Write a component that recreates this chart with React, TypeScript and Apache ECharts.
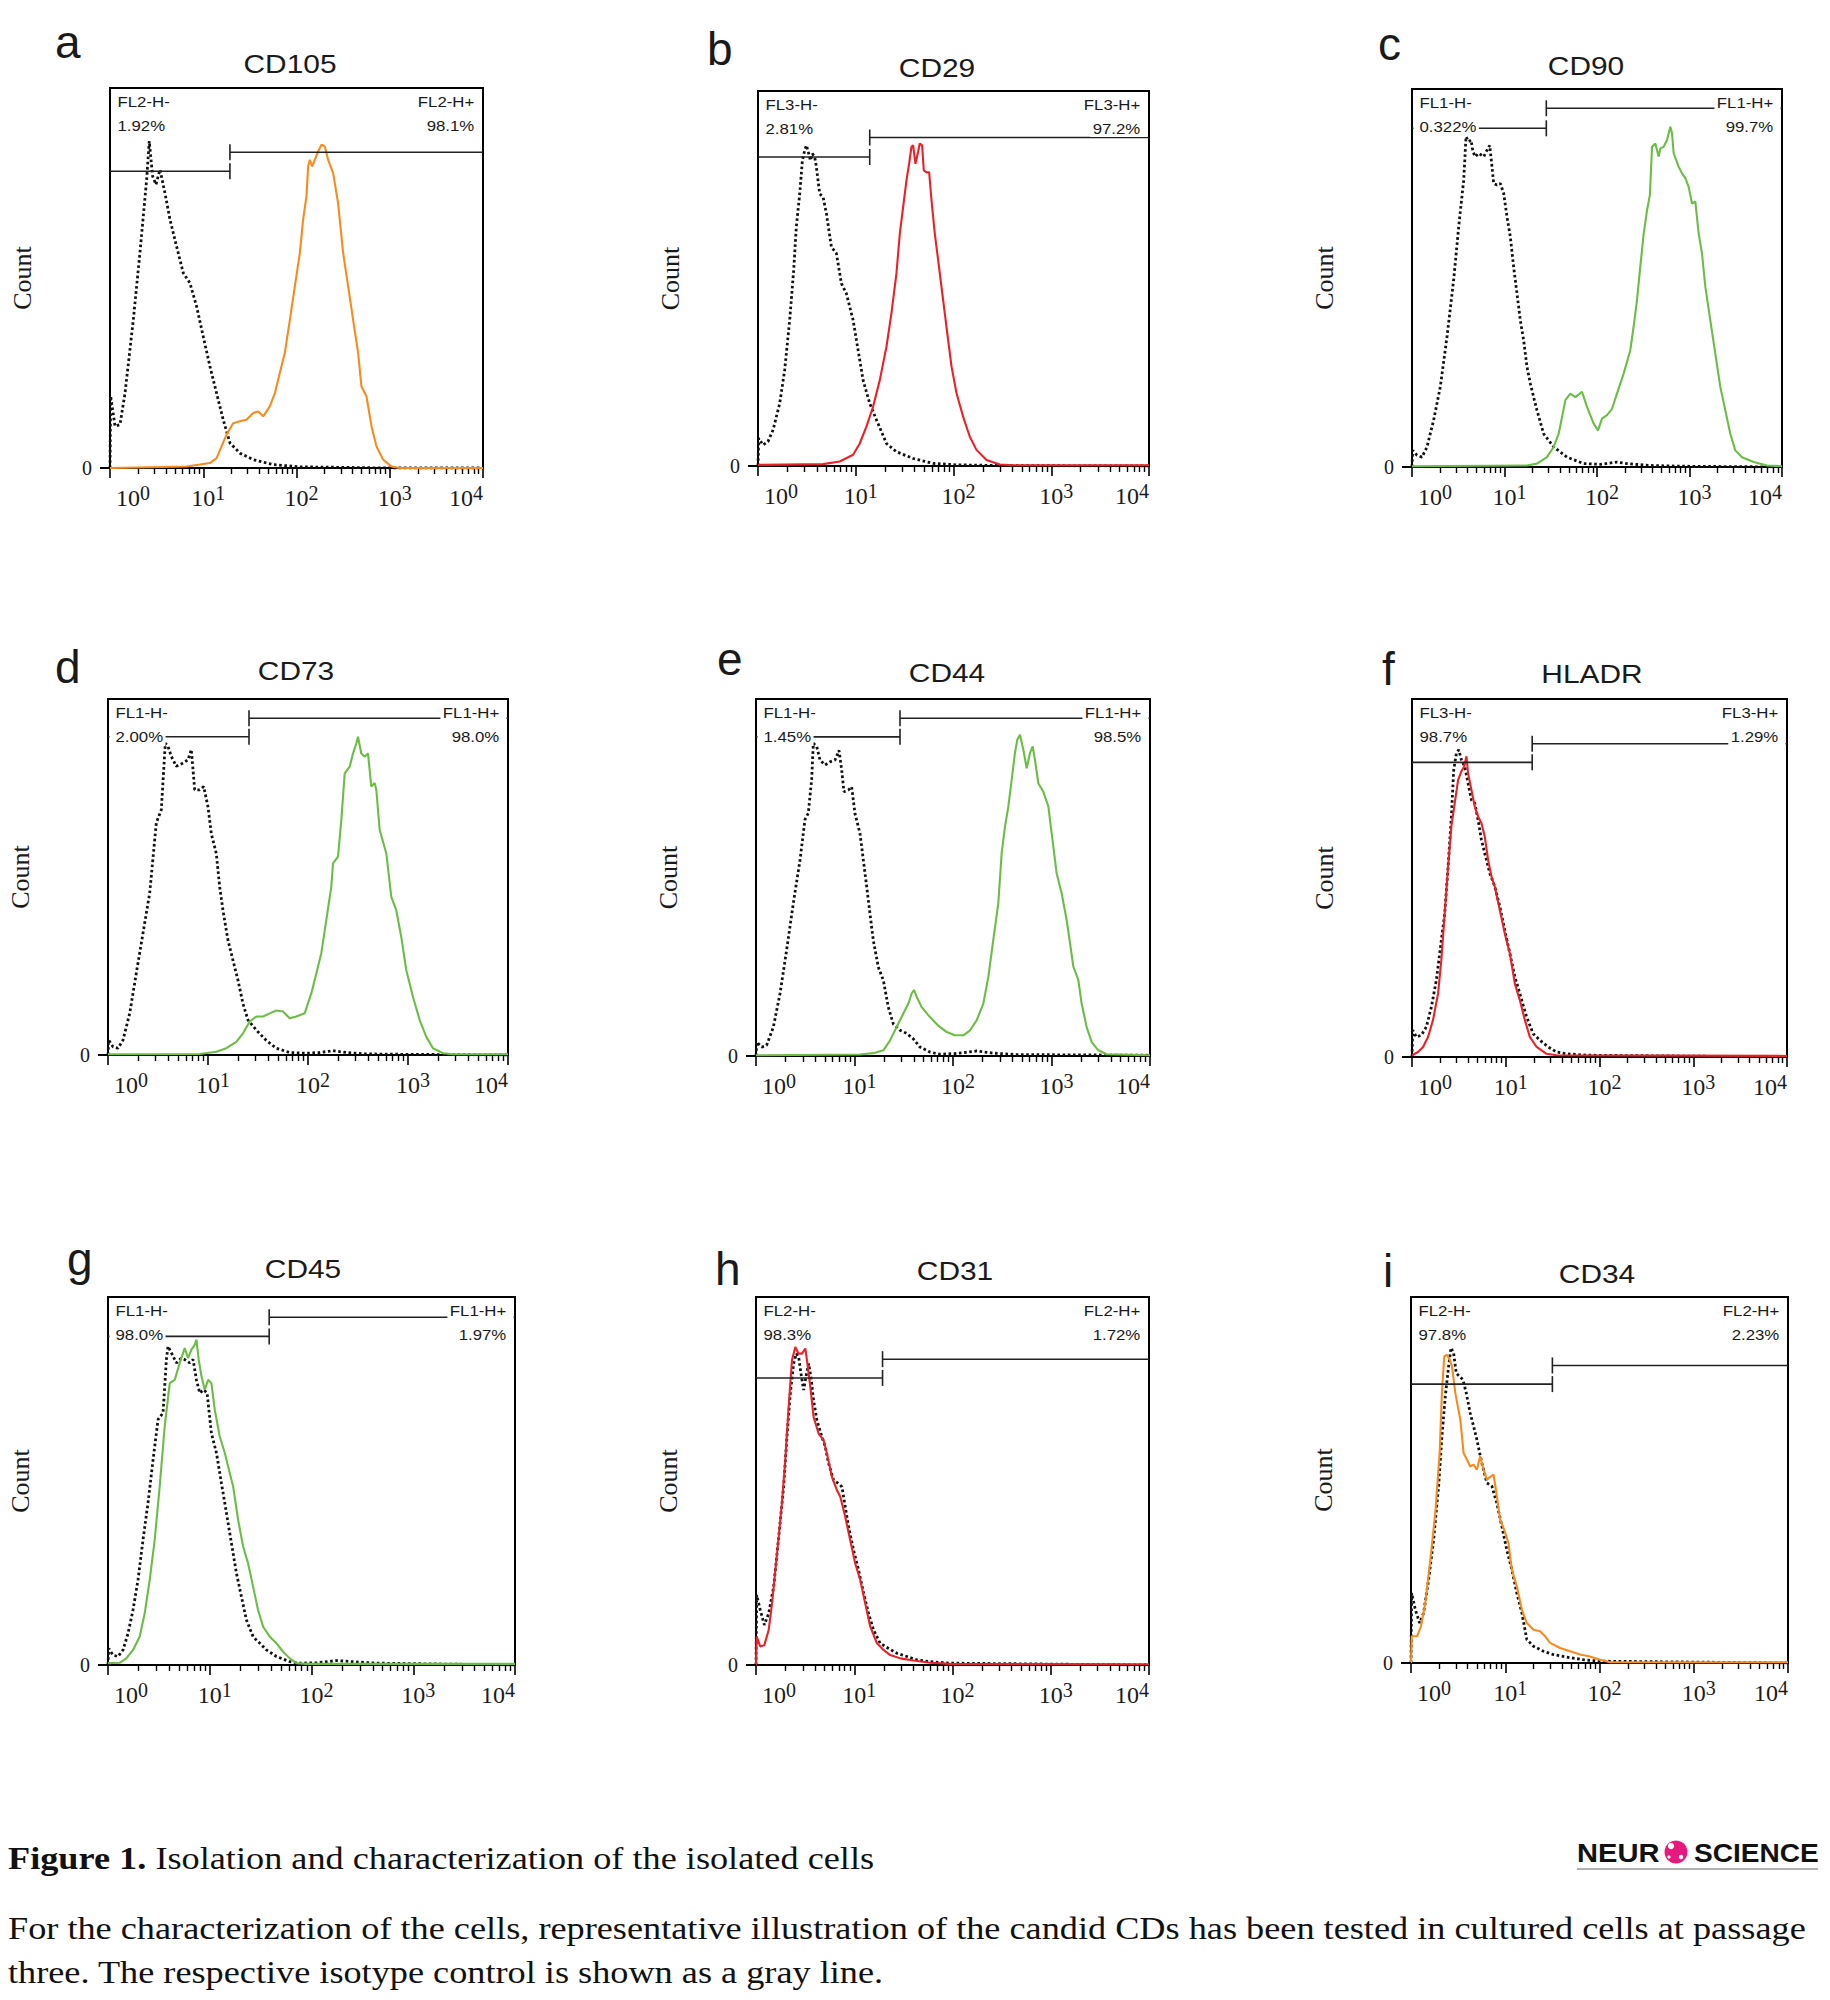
import React, { useEffect, useRef } from 'react';
import * as echarts from 'echarts';

// x: log10 fluorescence intensity (0 = 10^0 ... 4 = 10^4); y: relative cell count (% of full scale)
const DECADES = [0, 1, 2, 3, 4];
const MINOR_MULTIPLIERS = [2, 3, 4, 5, 6, 7, 8, 9];

const cd105Isotype = [[0,0],[0.007,18.9],[0.054,11],[0.107,11.4],[0.161,19.7],[0.25,39],[0.321,56.6],[0.393,75.9],[0.421,86],[0.457,76.8],[0.493,74.6],[0.536,78.5],[0.589,72.4],[0.643,65.4],[0.714,58.3],[0.786,51.3],[0.857,48.7],[0.929,42.5],[1.0,34.6],[1.071,26.8],[1.143,19.7],[1.214,12.7],[1.286,6.6],[1.393,3.9],[1.536,2.2],[1.75,0.9],[2.036,0.3],[2.39,0.2],[2.98,0],[4,0]];
const cd105Stained = [[0,0],[0.821,0.4],[0.964,0.9],[1.071,1.3],[1.143,2.6],[1.196,5.7],[1.25,8.8],[1.321,11.8],[1.393,12.3],[1.464,12.7],[1.536,14.5],[1.589,14.9],[1.643,13.6],[1.714,16.2],[1.768,19.7],[1.821,25],[1.875,30.3],[1.929,39],[1.982,47.8],[2.036,56.6],[2.071,65.4],[2.107,71.5],[2.125,79.4],[2.143,81.1],[2.168,79.4],[2.196,81.1],[2.232,83.3],[2.268,85.1],[2.304,84.6],[2.339,81.1],[2.393,77.6],[2.446,69.7],[2.5,56.6],[2.554,47.8],[2.607,39],[2.661,30.3],[2.696,21.5],[2.75,18.9],[2.804,11],[2.857,5.7],[2.929,2.2],[3.018,0.4],[3.107,0],[4,0]];
const cd105Gates = [[0, 1.286, 78.1], [1.286, 4, 83.1]];

const cd29Isotype = [[0,0],[0.007,7.4],[0.051,5.6],[0.102,6.5],[0.154,9.6],[0.222,16.7],[0.273,25.6],[0.324,38.9],[0.365,52.2],[0.392,63.8],[0.427,72.6],[0.454,81.5],[0.478,84.2],[0.495,85.5],[0.519,83.3],[0.536,81.5],[0.556,83.3],[0.58,82.4],[0.597,79.8],[0.631,72.6],[0.666,71.7],[0.7,67.3],[0.751,58.4],[0.802,56.7],[0.853,48.7],[0.904,46],[0.973,38.9],[1.024,30.9],[1.075,22.9],[1.143,16.7],[1.212,12.3],[1.314,6],[1.416,3.8],[1.587,2],[1.792,0.7],[2.031,0.3],[2.543,0.1],[4,0]];
const cd29Stained = [[0,0.3],[0.666,0.5],[0.836,1.2],[0.973,3],[1.041,6],[1.109,10.5],[1.177,15.8],[1.246,22.9],[1.314,31.8],[1.365,40.7],[1.416,51.3],[1.451,62],[1.485,69.1],[1.519,76.2],[1.546,80.6],[1.57,85.1],[1.587,85.5],[1.611,80.6],[1.638,83.8],[1.655,86],[1.679,85.5],[1.696,78.8],[1.724,78.3],[1.751,78.3],[1.775,70.8],[1.809,61.9],[1.843,54.9],[1.877,47.8],[1.911,40.7],[1.945,33.6],[1.98,26.5],[2.031,19.4],[2.099,13.1],[2.167,7.8],[2.235,4.3],[2.338,1.6],[2.474,0.4],[2.611,0.2],[4,0.2]];
const cd29Gates = [[0, 1.143, 82.4], [1.143, 4, 87.6]];

const cd90Isotype = [[0,0],[0.007,4.4],[0.054,3.1],[0.108,2.6],[0.162,5.3],[0.234,12.4],[0.306,21.2],[0.378,34.4],[0.45,49.4],[0.505,63.6],[0.559,75.9],[0.584,87.4],[0.613,86.1],[0.638,86.5],[0.659,83.4],[0.685,82.1],[0.721,83],[0.775,82.1],[0.811,83.8],[0.84,85.1],[0.865,79.4],[0.883,75],[0.919,74.6],[0.955,75],[0.991,72.4],[1.027,66.2],[1.063,60.9],[1.099,52.9],[1.135,45.9],[1.171,38.8],[1.207,33.5],[1.243,26.5],[1.279,22.1],[1.315,18.5],[1.351,15],[1.423,8.8],[1.532,5.3],[1.676,2.6],[1.856,0.9],[2.036,0.7],[2.216,1.3],[2.324,0.9],[2.577,0.4],[2.937,0.2],[4,0]];
const cd90Stained = [[0,0.2],[1.243,0.4],[1.351,0.9],[1.459,2.6],[1.532,5.3],[1.586,8.8],[1.622,13.2],[1.658,17.7],[1.712,19.4],[1.766,18.5],[1.838,19.9],[1.892,15.9],[1.964,11.5],[2.011,9.7],[2.054,12.8],[2.108,13.7],[2.162,15.4],[2.216,19.4],[2.288,24.7],[2.36,30.9],[2.396,37.1],[2.432,44.1],[2.468,53],[2.505,61.8],[2.541,67.9],[2.572,72],[2.595,84.7],[2.631,85.6],[2.667,82.1],[2.685,84.3],[2.721,84.7],[2.757,86.5],[2.775,88.3],[2.793,90],[2.811,88.3],[2.829,83],[2.883,79.4],[2.919,77.7],[2.955,76.4],[2.991,74.1],[3.027,69.7],[3.063,70.2],[3.099,61.8],[3.135,56.5],[3.171,47.7],[3.225,38.8],[3.279,30],[3.333,21.2],[3.387,15],[3.441,8.8],[3.495,4.4],[3.568,2.6],[3.694,1.3],[3.838,0.4],[4,0.2]];
const cd90Gates = [[0, 1.452, 89.6], [1.452, 4, 94.9]];

const cd73Isotype = [[0,0],[0.007,4.2],[0.05,2.3],[0.1,1.9],[0.15,4.2],[0.217,11.7],[0.283,23],[0.35,34.2],[0.417,45.5],[0.483,65.2],[0.533,68.9],[0.573,87.6],[0.6,86.7],[0.633,83.9],[0.683,81.1],[0.75,82],[0.8,82.9],[0.833,85.8],[0.867,74.5],[0.917,74.5],[0.957,75.4],[1.0,69.7],[1.033,62.2],[1.083,56.6],[1.117,47.2],[1.15,40.6],[1.2,32.2],[1.25,26.6],[1.3,21],[1.35,14.4],[1.4,9.8],[1.483,7],[1.583,4.1],[1.683,1.9],[1.817,0.7],[1.983,0.5],[2.117,0.7],[2.25,1.2],[2.383,0.7],[2.583,0.3],[2.917,0.2],[4,0]];
const cd73Stained = [[0,0.2],[0.917,0.3],[1.083,0.9],[1.183,1.9],[1.283,3.7],[1.35,6.1],[1.417,9.4],[1.483,10.8],[1.55,10.8],[1.617,11.7],[1.683,12.5],[1.75,12.2],[1.817,10.3],[1.883,10.8],[1.967,11.7],[2.033,17.3],[2.083,22.9],[2.133,28.6],[2.183,37.9],[2.233,47.3],[2.25,53.8],[2.3,55.7],[2.333,65.9],[2.367,79.1],[2.417,81],[2.45,84.7],[2.483,87.5],[2.5,89.4],[2.533,84.7],[2.567,83.8],[2.6,84.7],[2.633,75.4],[2.667,76.4],[2.683,74.5],[2.717,63.2],[2.783,56.6],[2.833,44.4],[2.883,40.6],[2.933,33.1],[2.983,23.8],[3.05,16.3],[3.117,9.8],[3.183,5.1],[3.25,1.9],[3.35,0.5],[3.45,0.2],[4,0.2]];
const cd73Gates = [[0, 1.41, 89.4], [1.41, 4, 94.6]];

const cd44Isotype = [[0,0],[0.007,3.9],[0.058,2.5],[0.108,3],[0.176,8.1],[0.244,17.5],[0.311,29.7],[0.379,42.8],[0.447,54.9],[0.497,66.2],[0.531,68],[0.565,77.4],[0.582,87.6],[0.616,86.7],[0.65,82.9],[0.701,81.5],[0.751,82.4],[0.802,82.9],[0.843,85.6],[0.87,80.1],[0.893,74],[0.937,74.5],[0.971,75.4],[1.005,67.9],[1.056,62.3],[1.09,54.8],[1.124,47.4],[1.157,39.9],[1.191,32.4],[1.242,24.9],[1.293,21.2],[1.343,13.7],[1.394,9],[1.462,7.2],[1.53,6.3],[1.597,4.8],[1.665,2.5],[1.766,1.1],[1.868,0.5],[2.037,0.7],[2.24,1.4],[2.409,0.8],[2.646,0.4],[4,0.2]];
const cd44Stained = [[0,0.2],[1.056,0.4],[1.191,0.8],[1.293,1.6],[1.36,4.3],[1.428,8.1],[1.496,11.9],[1.547,14.7],[1.58,17.5],[1.604,18.5],[1.631,16.6],[1.682,13.7],[1.766,10.9],[1.851,8.5],[1.936,6.7],[2.02,5.8],[2.105,5.8],[2.173,7.2],[2.24,10],[2.308,14.7],[2.359,22.2],[2.409,32.5],[2.46,42.8],[2.494,56.8],[2.528,64.3],[2.562,69.9],[2.596,77.4],[2.629,84.9],[2.653,88.6],[2.68,90],[2.714,85.8],[2.748,80.6],[2.782,84.9],[2.809,86.7],[2.832,83],[2.866,76.4],[2.917,74],[2.968,69.9],[3.002,62.3],[3.052,51.2],[3.103,45.6],[3.154,38.1],[3.188,31.6],[3.222,25],[3.272,21.3],[3.306,14.7],[3.357,8.1],[3.408,3.9],[3.475,1.6],[3.56,0.5],[4,0.2]];
const cd44Gates = [[0, 1.462, 89.4], [1.462, 4, 94.6]];

const hladrIsotype = [[0,0],[0.007,7.5],[0.046,5.6],[0.1,6.1],[0.153,8.4],[0.207,14],[0.26,21.5],[0.313,32.6],[0.349,40.1],[0.385,53.2],[0.42,67.2],[0.445,80.2],[0.474,84.9],[0.499,85.8],[0.527,83],[0.563,81.1],[0.598,76.5],[0.634,71.8],[0.67,70.9],[0.705,66.2],[0.741,60.6],[0.776,56.9],[0.83,51.3],[0.883,47.6],[0.937,42],[0.99,35.4],[1.044,28.9],[1.097,22.4],[1.15,17.7],[1.222,11.2],[1.293,6.5],[1.364,4.7],[1.453,2.8],[1.542,1.4],[1.649,0.9],[1.863,0.5],[4,0]];
const hladrStained = [[0,0.5],[0.064,1.4],[0.118,2.8],[0.171,5.6],[0.224,10.3],[0.278,17.7],[0.313,27.1],[0.349,40.1],[0.385,53.2],[0.42,64.4],[0.456,70.9],[0.492,77.4],[0.527,79.8],[0.556,81.1],[0.581,84],[0.598,79.3],[0.634,74.6],[0.67,69.9],[0.705,67.2],[0.741,65.3],[0.776,61.6],[0.812,55],[0.848,50.4],[0.883,47.6],[0.937,41],[0.99,34.5],[1.044,28.9],[1.097,20.5],[1.15,15.9],[1.204,10.3],[1.257,5.6],[1.329,2.8],[1.435,0.9],[1.542,0.5],[4,0.3]];
const hladrGates = [[0, 1.282, 82.3], [1.282, 4, 87.5]];

const cd45Isotype = [[0,0],[0.007,4.5],[0.049,2.7],[0.098,2.3],[0.148,4.1],[0.197,8.6],[0.246,15],[0.295,23.1],[0.344,34],[0.393,44],[0.443,55.8],[0.492,66.7],[0.541,68.5],[0.574,83],[0.59,86.6],[0.623,84.8],[0.672,82.1],[0.721,83.4],[0.754,83],[0.803,82.1],[0.836,83],[0.869,77.5],[0.902,73.9],[0.941,74.8],[0.974,73.9],[1.016,63],[1.066,57.6],[1.115,49.4],[1.164,41.3],[1.213,33.1],[1.262,25],[1.311,18.6],[1.361,12.2],[1.426,7.7],[1.492,5.9],[1.557,4.1],[1.656,2.3],[1.787,0.9],[1.885,0.5],[2.049,0.6],[2.246,1.2],[2.41,0.9],[2.639,0.5],[4,0]];
const cd45Stained = [[0,0.5],[0.115,0.6],[0.18,1.8],[0.246,4.1],[0.311,7.7],[0.361,14.1],[0.41,23.1],[0.459,34],[0.508,48.5],[0.557,64.8],[0.607,76.6],[0.656,77.5],[0.705,82.1],[0.754,86.1],[0.787,83.4],[0.82,85.7],[0.852,87],[0.869,88.4],[0.892,82.9],[0.918,78.5],[0.951,74.8],[0.984,77.5],[1.016,76.6],[1.049,69.4],[1.098,62.1],[1.148,57.6],[1.197,52.1],[1.23,48.5],[1.279,39.4],[1.328,32.2],[1.377,27.6],[1.426,21.3],[1.475,14.9],[1.525,10.4],[1.59,7.7],[1.656,5.9],[1.721,3.6],[1.787,1.8],[1.852,0.5],[1.951,0.3],[4,0.3]];
const cd45Gates = [[0, 1.584, 89.3], [1.584, 4, 94.5]];

const cd31Isotype = [[0,0],[0.007,19],[0.044,14.9],[0.085,10.9],[0.129,14],[0.18,21.3],[0.231,34.8],[0.281,48.4],[0.315,62],[0.349,73.8],[0.383,81.9],[0.41,84.6],[0.434,83.7],[0.458,79.2],[0.485,74.7],[0.508,78.3],[0.536,81.9],[0.559,78.3],[0.586,71.9],[0.62,66.5],[0.671,62],[0.705,59.3],[0.739,54.8],[0.79,50.2],[0.841,49.3],[0.875,48.4],[0.908,43],[0.942,37.6],[0.993,31.2],[1.044,25.8],[1.095,19.5],[1.146,14],[1.197,9.5],[1.264,5.9],[1.349,4.5],[1.434,3.2],[1.536,2.3],[1.637,1.4],[1.773,0.9],[1.976,0.5],[4,0]];
const cd31Stained = [[0,0],[0.007,7.7],[0.044,5],[0.085,5.4],[0.129,9.5],[0.163,16.7],[0.214,30.3],[0.264,43.9],[0.298,55.7],[0.332,70.1],[0.366,82.8],[0.4,86.4],[0.434,84.6],[0.468,84.6],[0.502,86],[0.519,82.8],[0.553,75.6],[0.586,67.4],[0.637,62.9],[0.688,61.1],[0.722,57.5],[0.773,51.1],[0.824,47.5],[0.858,45.7],[0.908,40.3],[0.959,33.9],[1.01,27.6],[1.061,23.1],[1.112,16.7],[1.163,10.4],[1.231,5.9],[1.298,4.1],[1.366,2.7],[1.468,1.8],[1.603,1.2],[1.773,0.6],[1.976,0.3],[4,0.2]];
const cd31Gates = [[0, 1.288, 78], [1.288, 4, 83.1]];

const cd34Isotype = [[0,0],[0.007,19.1],[0.046,14.6],[0.092,10.9],[0.134,13.7],[0.187,22.8],[0.24,33.7],[0.293,48.3],[0.328,61.9],[0.364,72.9],[0.399,81.1],[0.424,86.1],[0.452,84.7],[0.48,79.2],[0.515,78.3],[0.551,77.4],[0.586,73.8],[0.628,68.3],[0.664,64.7],[0.699,61],[0.752,54.6],[0.805,49.2],[0.858,48.3],[0.911,43.7],[0.964,37.3],[1.017,30.9],[1.07,25.5],[1.123,19.1],[1.176,13.7],[1.229,6.4],[1.299,4.6],[1.405,3.2],[1.511,2.3],[1.652,1.6],[1.829,0.9],[2.005,0.5],[4,0]];
const cd34Stained = [[0,0],[0.007,7.3],[0.064,7.3],[0.106,10],[0.152,16.4],[0.205,28.2],[0.258,41],[0.304,57.4],[0.328,73.8],[0.353,83.8],[0.381,84.2],[0.41,82.9],[0.434,81.1],[0.47,73.8],[0.523,66.5],[0.558,57.4],[0.593,55.6],[0.628,53.7],[0.664,54.2],[0.699,52.8],[0.734,56.5],[0.77,52.8],[0.805,50.1],[0.847,51],[0.876,51.5],[0.911,45.5],[0.946,39.2],[0.989,36.4],[1.034,32.8],[1.07,25.5],[1.123,20.9],[1.176,14.6],[1.229,10.9],[1.299,9.1],[1.37,8.7],[1.423,7.3],[1.476,5.5],[1.582,4.1],[1.688,3.2],[1.793,2.3],[1.899,1.8],[2.005,0.9],[2.111,0.2],[4,0.2]];
const cd34Gates = [[0, 1.5, 76.2], [1.5, 4, 81.3]];

const panelLetters = ['a', 'b', 'c', 'd', 'e', 'f', 'g', 'h', 'i'];
const markerNames = ['CD105', 'CD29', 'CD90', 'CD73', 'CD44', 'HLADR', 'CD45', 'CD31', 'CD34'];
const negGateNames = ['FL2-H-', 'FL3-H-', 'FL1-H-', 'FL1-H-', 'FL1-H-', 'FL3-H-', 'FL1-H-', 'FL2-H-', 'FL2-H-'];
const posGateNames = ['FL2-H+', 'FL3-H+', 'FL1-H+', 'FL1-H+', 'FL1-H+', 'FL3-H+', 'FL1-H+', 'FL2-H+', 'FL2-H+'];
const negPercents = ['1.92%', '2.81%', '0.322%', '2.00%', '1.45%', '98.7%', '98.0%', '98.3%', '97.8%'];
const posPercents = ['98.1%', '97.2%', '99.7%', '98.0%', '98.5%', '1.29%', '1.97%', '1.72%', '2.23%'];
const isotypeSeries = [cd105Isotype, cd29Isotype, cd90Isotype, cd73Isotype, cd44Isotype, hladrIsotype, cd45Isotype, cd31Isotype, cd34Isotype];
const stainedSeries = [cd105Stained, cd29Stained, cd90Stained, cd73Stained, cd44Stained, hladrStained, cd45Stained, cd31Stained, cd34Stained];
const gateSeries = [cd105Gates, cd29Gates, cd90Gates, cd73Gates, cd44Gates, hladrGates, cd45Gates, cd31Gates, cd34Gates];

const ORANGE = '#F68B1F';
const RED = '#E8222A';
const GREEN = '#6CBD45';
const markerColors = [ORANGE, RED, GREEN, GREEN, GREEN, RED, GREEN, RED, ORANGE];

const captionTitle = 'Figure 1.';
const captionTitleRest = ' Isolation and characterization of the isolated cells';
const captionLine1 = 'For the characterization of the cells, representative illustration of the candid CDs has been tested in cultured cells at passage';
const captionLine2 = 'three. The respective isotype control is shown as a gray line.';

// layout (pixels)
const LAYOUT = [
  { left: 110, top: 88, width: 373, height: 380, letter: [55, 58], title: [290, 73] },
  { left: 758, top: 91, width: 391, height: 375, letter: [707, 65], title: [937, 77] },
  { left: 1412, top: 89, width: 370, height: 378, letter: [1378, 60], title: [1586, 75] },
  { left: 108, top: 699, width: 400, height: 356, letter: [55, 683], title: [296, 680] },
  { left: 756, top: 699, width: 394, height: 357, letter: [717, 675], title: [947, 682] },
  { left: 1412, top: 699, width: 375, height: 358, letter: [1382, 685], title: [1592, 683] },
  { left: 108, top: 1297, width: 407, height: 368, letter: [67, 1275], title: [303, 1278] },
  { left: 756, top: 1297, width: 393, height: 368, letter: [715, 1285], title: [955, 1280] },
  { left: 1411, top: 1297, width: 377, height: 366, letter: [1383, 1287], title: [1597, 1283] },
];

const SANS = '"Liberation Sans", Arial, sans-serif';
const SERIF = '"Liberation Serif", "Times New Roman", serif';
const INK = '#1a1a1a';

function buildOption() {
  const minorTicks: number[] = [];
  for (let d = 0; d < DECADES.length - 1; d++) {
    MINOR_MULTIPLIERS.forEach((m) => minorTicks.push(DECADES[d] + Math.log10(m)));
  }
  const n = LAYOUT.length;
  const grid: any[] = [];
  const xAxis: any[] = [];
  const yAxis: any[] = [];
  const series: any[] = [];
  const graphic: any[] = [];

  const labelRich = {
    b: { fontFamily: SERIF, fontSize: 24, color: INK, lineHeight: 30, padding: [0, 0, 0, 10] },
    b0: { fontFamily: SERIF, fontSize: 24, color: INK, lineHeight: 30, padding: [0, 0, 0, 46] },
    b4: { fontFamily: SERIF, fontSize: 24, color: INK, lineHeight: 30 },
    s: { fontFamily: SERIF, fontSize: 20, color: INK, lineHeight: 12, verticalAlign: 'top' },
    s4: { fontFamily: SERIF, fontSize: 20, color: INK, lineHeight: 12, verticalAlign: 'top', padding: [0, 34, 0, 0] },
  };

  for (let i = 0; i < n; i++) {
    const L = LAYOUT[i];
    grid.push({ left: L.left, top: L.top, width: L.width, height: L.height, show: true, borderColor: '#000', borderWidth: 2, backgroundColor: 'transparent' });
  }
  for (let i = 0; i < n; i++) {
    xAxis.push({
      gridIndex: i, type: 'value', min: DECADES[0], max: DECADES[DECADES.length - 1], interval: 1, position: 'bottom',
      axisLine: { show: true, onZero: false, lineStyle: { color: '#000', width: 2 } },
      axisTick: { show: true, length: 10, lineStyle: { color: '#000', width: 1.6 } },
      splitLine: { show: false },
      axisLabel: {
        show: true, margin: 15, rich: labelRich,
        formatter: (v: number) => {
          const d = Math.round(v);
          if (d === 0) return '{b0|10}{s|0}';
          if (d === 4) return '{b4|10}{s4|4}';
          return '{b|10}{s|' + d + '}';
        },
      },
    });
  }
  for (let i = 0; i < n; i++) {
    xAxis.push({
      gridIndex: i, type: 'value', min: DECADES[0], max: DECADES[DECADES.length - 1], position: 'bottom',
      axisLine: { show: false, onZero: false },
      axisTick: { show: true, length: 6, customValues: minorTicks, lineStyle: { color: '#000', width: 1.4 } },
      axisLabel: { show: false },
      splitLine: { show: false },
    });
  }
  for (let i = 0; i < n; i++) {
    yAxis.push({
      gridIndex: i, type: 'value', min: 0, max: 100, interval: 100,
      axisLine: { show: false }, axisTick: { show: false }, splitLine: { show: false },
      axisLabel: { formatter: (v: number) => (v === 0 ? '0' : ''), fontFamily: SERIF, fontSize: 20, color: INK, margin: 18, padding: [0, 0, 10, 0] },
    });
  }

  for (let i = 0; i < n; i++) {
    series.push({
      type: 'line', xAxisIndex: i, yAxisIndex: i, data: isotypeSeries[i], showSymbol: false, symbol: 'none',
      lineStyle: { color: '#111', width: 2.8, type: [2.6, 2.6] }, z: 3, silent: true,
    });
    series.push({
      type: 'line', xAxisIndex: i, yAxisIndex: i, data: stainedSeries[i], showSymbol: false, symbol: 'none',
      lineStyle: { color: markerColors[i], width: 2.1 }, z: 4, silent: true,
    });
    series.push({
      type: 'custom', xAxisIndex: i, yAxisIndex: i, silent: true, z: 5,
      data: gateSeries[i].map((g, k) => [g[0], g[1], g[2], k === 0 ? 1 : 0]),
      renderItem: (params: any, api: any) => {
        const p1 = api.coord([api.value(0), api.value(2)]);
        const p2 = api.coord([api.value(1), api.value(2)]);
        const cx = api.value(3) ? p2[0] : p1[0];
        return {
          type: 'group',
          children: [
            { type: 'line', shape: { x1: p1[0], y1: p1[1], x2: p2[0], y2: p2[1] }, style: { stroke: '#222', lineWidth: 1.6 } },
            { type: 'line', shape: { x1: cx, y1: p1[1] - 8, x2: cx, y2: p1[1] + 8 }, style: { stroke: '#222', lineWidth: 1.6 } },
          ],
        };
      },
    });

    const L = LAYOUT[i];
    const right = L.left + L.width;
    const bottom = L.top + L.height;
    graphic.push({ type: 'text', x: L.letter[0], y: L.letter[1] - 16, z: 10, style: { text: panelLetters[i], fontFamily: SANS, fontSize: 46, fill: INK, align: 'left', verticalAlign: 'middle' } });
    graphic.push({ type: 'text', x: L.title[0], y: L.title[1] - 9, scaleX: 1.15, z: 10, style: { text: markerNames[i], fontFamily: SANS, fontSize: 26, fill: INK, align: 'center', verticalAlign: 'middle' } });
    graphic.push({ type: 'text', x: L.left - 88, y: L.top + L.height / 2, rotation: Math.PI / 2, z: 10, style: { text: 'Count', fontFamily: SERIF, fontSize: 26, fill: INK, align: 'center', verticalAlign: 'middle' } });
    const labStyle = { fontFamily: SANS, fontSize: 14, fill: INK, backgroundColor: '#fff' };
    graphic.push({ type: 'text', x: L.left + 1.5, y: L.top + 14, scaleX: 1.2, z: 10, style: { ...labStyle, padding: [1, 2, 1, 5], text: negGateNames[i], align: 'left', verticalAlign: 'middle' } });
    graphic.push({ type: 'text', x: L.left + 1.5, y: L.top + 38, scaleX: 1.2, z: 10, style: { ...labStyle, padding: [1, 2, 1, 5], text: negPercents[i], align: 'left', verticalAlign: 'middle' } });
    graphic.push({ type: 'text', x: right - 1.5, y: L.top + 14, scaleX: 1.2, z: 10, style: { ...labStyle, padding: [1, 6, 1, 2], text: posGateNames[i], align: 'right', verticalAlign: 'middle' } });
    graphic.push({ type: 'text', x: right - 1.5, y: L.top + 38, scaleX: 1.2, z: 10, style: { ...labStyle, padding: [1, 6, 1, 2], text: posPercents[i], align: 'right', verticalAlign: 'middle' } });
    graphic.push({ type: 'line', z: 10, shape: { x1: L.left - 10, y1: bottom, x2: L.left, y2: bottom }, style: { stroke: '#000', lineWidth: 2 } });
  }

  // caption
  const capFont = 31;
  const capScale = 1.17;
  graphic.push({ type: 'text', x: 8, y: 1858, scaleX: capScale, z: 10, style: { text: '{t|' + captionTitle + '}' + captionTitleRest, fontFamily: SERIF, fontSize: capFont, fill: '#111', align: 'left', verticalAlign: 'middle', rich: { t: { fontFamily: SERIF, fontSize: capFont, fontWeight: 'bold', fill: '#111' } } } });
  graphic.push({ type: 'text', x: 8, y: 1928, scaleX: capScale, z: 10, style: { text: captionLine1, fontFamily: SERIF, fontSize: capFont, fill: '#111', align: 'left', verticalAlign: 'middle' } });
  graphic.push({ type: 'text', x: 8, y: 1972, scaleX: capScale, z: 10, style: { text: captionLine2, fontFamily: SERIF, fontSize: capFont, fill: '#111', align: 'left', verticalAlign: 'middle' } });

  // logo
  graphic.push({ type: 'text', x: 1577, y: 1853, scaleX: 1.12, z: 10, style: { text: 'NEUR', fontFamily: SANS, fontWeight: 'bold', fontSize: 26, fill: '#111', align: 'left', verticalAlign: 'middle' } });
  graphic.push({ type: 'text', x: 1694, y: 1853, scaleX: 1.08, z: 10, style: { text: 'SCIENCE', fontFamily: SANS, fontWeight: 'bold', fontSize: 26, fill: '#111', align: 'left', verticalAlign: 'middle' } });
  graphic.push({ type: 'circle', z: 10, shape: { cx: 1676, cy: 1852, r: 11.5 }, style: { fill: '#E6197E' } });
  graphic.push({ type: 'circle', z: 11, shape: { cx: 1671, cy: 1846, r: 3.2 }, style: { fill: '#fff' } });
  graphic.push({ type: 'circle', z: 11, shape: { cx: 1681, cy: 1857, r: 2.2 }, style: { fill: '#fff' } });
  graphic.push({ type: 'circle', z: 11, shape: { cx: 1669, cy: 1857, r: 1.6 }, style: { fill: '#fff' } });
  graphic.push({ type: 'circle', z: 11, shape: { cx: 1682, cy: 1846, r: 1.4 }, style: { fill: '#fff' } });
  graphic.push({ type: 'line', z: 10, shape: { x1: 1577, y1: 1869, x2: 1818, y2: 1869 }, style: { stroke: '#b0b0b0', lineWidth: 2 } });

  return { animation: false, backgroundColor: '#fff', grid, xAxis, yAxis, series, graphic };
}

export default function App() {
  const ref = useRef<HTMLDivElement>(null);
  useEffect(() => {
    document.body.style.margin = '0';
    const chart = echarts.init(ref.current as HTMLDivElement, null, { renderer: 'svg' });
    chart.setOption(buildOption() as any);
    return () => chart.dispose();
  }, []);
  return <div ref={ref} style={{ width: 1830, height: 2000 }} />;
}
